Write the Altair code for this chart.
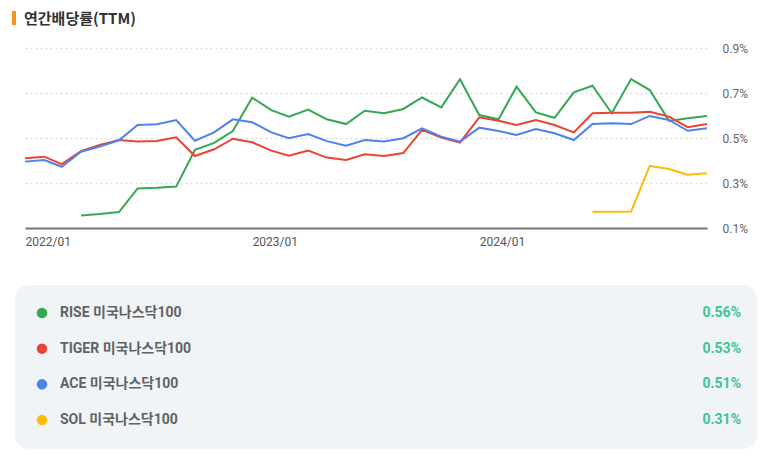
import altair as alt
import pandas as pd

# ---------------- data ----------------
months = [f"{2022 + i // 12}-{i % 12 + 1:02d}-01T00:00:00" for i in range(37)]

rise = [None, None, None, 0.156, 0.162, 0.171, 0.276, 0.279, 0.284, 0.447,
        0.478, 0.531, 0.679, 0.624, 0.595, 0.626, 0.583, 0.562, 0.621, 0.610,
        0.629, 0.680, 0.636, 0.761, 0.602, 0.583, 0.728, 0.614, 0.590, 0.703,
        0.732, 0.610, 0.762, 0.713, 0.576, 0.588, 0.598]
tiger = [0.410, 0.417, 0.384, 0.441, 0.469, 0.491, 0.484, 0.487, 0.503, 0.420,
         0.450, 0.497, 0.481, 0.444, 0.421, 0.444, 0.413, 0.402, 0.428, 0.420,
         0.433, 0.536, 0.502, 0.480, 0.592, 0.577, 0.558, 0.580, 0.558, 0.525,
         0.610, 0.612, 0.612, 0.617, 0.595, 0.548, 0.562]
ace = [0.395, 0.402, 0.372, 0.439, 0.462, 0.490, 0.558, 0.561, 0.580, 0.488,
       0.525, 0.583, 0.570, 0.525, 0.499, 0.518, 0.486, 0.466, 0.491, 0.484,
       0.499, 0.543, 0.506, 0.484, 0.546, 0.531, 0.513, 0.540, 0.521, 0.491,
       0.562, 0.565, 0.562, 0.598, 0.580, 0.532, 0.543]
sol = [None] * 30 + [0.172, 0.172, 0.173, 0.376, 0.362, 0.337, 0.343]

names = ["RISE 미국나스닥100", "TIGER 미국나스닥100", "ACE 미국나스닥100", "SOL 미국나스닥100"]
latest = ["0.56%", "0.53%", "0.51%", "0.31%"]
colors = ["#34a853", "#ea4335", "#4f80f0", "#fbbc05"]
series = [rise, tiger, ace, sol]

title_text = "연간배당률(TTM)"
y_ticks = [0.1, 0.3, 0.5, 0.7, 0.9]
x_ticks = ["2022-01-01T00:00:00", "2023-01-01T00:00:00", "2024-01-01T00:00:00"]

# ---------------- tables ----------------
rows = []
for nm, vals in zip(names, series):
    for m, v in zip(months, vals):
        if v is not None:
            rows.append({"month": m, "value": v, "name": nm})
df = pd.DataFrame(rows)
legend_df = pd.DataFrame({"name": names, "label": latest})
one = pd.DataFrame({"t": [title_text]})

color_scale = alt.Scale(domain=names, range=colors)
font = "Roboto, 'Noto Sans CJK KR', sans-serif"

lines = alt.Chart(df).mark_line(strokeWidth=2).encode(
    x=alt.X("month:T",
            scale=alt.Scale(domain=[months[0], months[-1]]),
            axis=alt.Axis(values=x_ticks,
                          format="%Y/%m", labelAlign="left", grid=False,
                          ticks=False, domainColor="#777", domainWidth=2,
                          labelColor="#555", labelFontSize=12, labelFont=font,
                          labelPadding=8, title=None, labelFlush=False)),
    y=alt.Y("value:Q",
            scale=alt.Scale(domain=[0.1, 0.9], nice=False, zero=False),
            axis=alt.Axis(orient="right", values=y_ticks,
                          labelExpr="format(datum.value, '.1f') + '%'",
                          grid=True, gridDash=[2, 3], gridColor="#dcdcdc",
                          gridWidth=1.5, domain=False, ticks=False,
                          labelColor="#666", labelFontSize=12, labelFont=font,
                          labelPadding=15, title=None)),
    color=alt.Color("name:N", scale=color_scale, legend=None),
    order=alt.Order("name:N", sort="descending"),
)

title_bar = alt.Chart(one).mark_rect(color="#f7941d").encode(
    x=alt.value(-13), x2=alt.value(-9), y=alt.value(-37), y2=alt.value(-23))
title = alt.Chart(one).mark_text(align="left", baseline="middle", fontSize=15,
                                 fontWeight="bold", color="#333",
                                 font="'Noto Sans CJK KR', sans-serif").encode(
    x=alt.value(-1), y=alt.value(-29), text="t:N")

box = alt.Chart(one).mark_rect(color="#f1f4f7", cornerRadius=14).encode(
    x=alt.value(-10), x2=alt.value(732), y=alt.value(237), y2=alt.value(401))

leg_y = alt.Y("name:N", sort=names,
              scale=alt.Scale(type="point", range=[265, 372], padding=0),
              axis=None)

dots = alt.Chart(legend_df).mark_circle(size=110, opacity=1).encode(
    x=alt.value(17), y=leg_y,
    color=alt.Color("name:N", scale=color_scale, legend=None))
labels = alt.Chart(legend_df).mark_text(align="left", baseline="middle",
                                        fontSize=14, fontWeight="bold",
                                        color="#5f6368", font=font).encode(
    x=alt.value(35), y=leg_y, text="name:N")
values = alt.Chart(legend_df).mark_text(align="right", baseline="middle",
                                        fontSize=14, fontWeight="bold",
                                        color="#3dc492", font=font).encode(
    x=alt.value(716), y=leg_y, text="label:N")

chart = alt.layer(box, title_bar, title, lines, dots, labels, values).resolve_scale(
    y="independent"
).properties(
    width=682, height=180,
    autosize=alt.AutoSizeParams(type="none"),
    padding={"left": 17, "top": 40, "right": 52, "bottom": 227},
    background="white",
).configure_view(strokeWidth=0)

chart.save("out.html", embed_options={"renderer": "svg", "actions": False})
